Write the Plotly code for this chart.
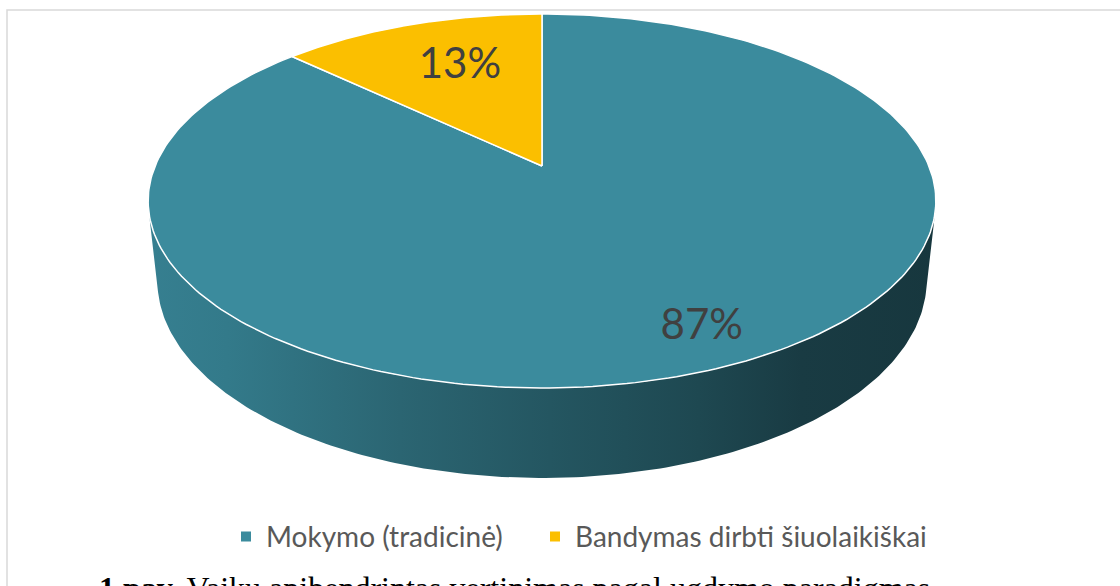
import numpy as np
import plotly.graph_objects as go

labels = ["Mokymo (tradicinė)", "Bandymas dirbti šiuolaikiškai"]
values = [87, 13]
colors = ["#3B8B9D", "#FBBF00"]
caption = "<b>1 pav.</b> Vaikų apibendrintas vertinimas pagal ugdymo paradigmas"

# perspective camera for the 3d disc, all in pixel units of the 1120x586 page
CX, CY = 542, 166
ELEV = np.radians(27.8)
DIST = 4.73
FOC = 1830
DEPTH = 0.235
LABEL_R = [0.84, 0.66]
LABEL_DX = 9
# side shading (multiplier on slice colour, left -> right)
SHADE = [(0, 0.92), (0.1, 0.88), (0.32, 0.73), (0.51, 0.62), (0.7, 0.52), (0.83, 0.43), (1, 0.40)]


def project(theta, r=1.0, z=0.0):
    # theta measured clockwise from 12 o'clock, seen from above
    X, Y = r * np.sin(theta), r * np.cos(theta)
    yc = Y * np.sin(ELEV) + z * np.cos(ELEV)
    d = DIST + Y * np.cos(ELEV) - z * np.sin(ELEV)
    return CX + FOC * X / d, CY - FOC * yc / d


def shade(hexcol, k):
    h = hexcol.lstrip("#")
    rgb = [int(h[i:i + 2], 16) for i in (0, 2, 4)]
    return "rgb({},{},{})".format(*[int(c * k) for c in rgb])


total = sum(values)
bounds = np.concatenate([[0], np.cumsum(values) / total]) * 2 * np.pi

# silhouette generators of the cylinder
t_sil = np.arccos(-1 / (DIST * np.cos(ELEV)))
front = (t_sil, 2 * np.pi - t_sil)

fig = go.Figure()

# side wall (front part only)
for i, col in enumerate(colors):
    a0, a1 = max(bounds[i], front[0]), min(bounds[i + 1], front[1])
    if a1 <= a0:
        continue
    th = np.linspace(a0, a1, 200)
    xt, yt = project(th)
    xb, yb = project(th[::-1], z=-DEPTH)
    fig.add_trace(go.Scatter(
        x=np.concatenate([xt, xb]), y=np.concatenate([yt, yb]),
        mode="lines", fill="toself", line=dict(width=0),
        fillgradient=dict(type="horizontal",
                          colorscale=[[p, shade(col, k)] for p, k in SHADE]),
        hoverinfo="skip", showlegend=False))

# top face slices
for i, col in enumerate(colors):
    th = np.linspace(bounds[i], bounds[i + 1], 300)
    xs, ys = project(th)
    fig.add_trace(go.Scatter(
        x=np.concatenate([[CX], xs, [CX]]), y=np.concatenate([[CY], ys, [CY]]),
        mode="lines", fill="toself", fillcolor=col,
        line=dict(color="white", width=1.5),
        hoverinfo="skip", showlegend=False))

# percentage labels
mids = (bounds[:-1] + bounds[1:]) / 2
lx, ly = [], []
for m, r in zip(mids, LABEL_R):
    px, py = project(m, r=r)
    lx.append(px + LABEL_DX)
    ly.append(py)
fig.add_trace(go.Scatter(
    x=lx, y=ly, mode="text",
    text=[f"{v / total:.0%}" for v in values],
    textfont=dict(family="Lato", size=42, color="#404040"),
    hoverinfo="skip", showlegend=False))

# legend entries, one legend box each so the spacing can follow the original
legend_names = ["legend", "legend2"]
legend_x = [226, 535]
for lab, col, lg in zip(labels, colors, legend_names):
    fig.add_trace(go.Scatter(
        x=[None], y=[None], mode="markers", name=lab, legend=lg,
        marker=dict(symbol="square", size=10, color=col)))

fig.add_shape(type="rect", x0=7, y0=10, x1=1130, y1=600,
              line=dict(color="#D9D9D9", width=1.5), layer="below")

fig.add_annotation(x=97, y=568, xanchor="left", yanchor="top", text=caption,
                   showarrow=False,
                   font=dict(family="Liberation Serif", size=32, color="black"))

leg_style = dict(orientation="h", y=0.084, yanchor="middle", xanchor="left",
                 font=dict(family="Lato", size=28, color="#595959"),
                 bgcolor="rgba(0,0,0,0)")
fig.update_layout(
    width=1120, height=586,
    margin=dict(l=0, r=0, t=0, b=0),
    paper_bgcolor="white", plot_bgcolor="white",
    xaxis=dict(range=[0, 1120], visible=False, fixedrange=True),
    yaxis=dict(range=[586, 0], visible=False, fixedrange=True),
    legend=dict(x=legend_x[0] / 1120, **leg_style),
    legend2=dict(x=legend_x[1] / 1120, **leg_style),
)

fig.write_html("out.html", config={"displayModeBar": False},
               post_script="document.body.style.margin='0';document.body.style.overflow='hidden';")
